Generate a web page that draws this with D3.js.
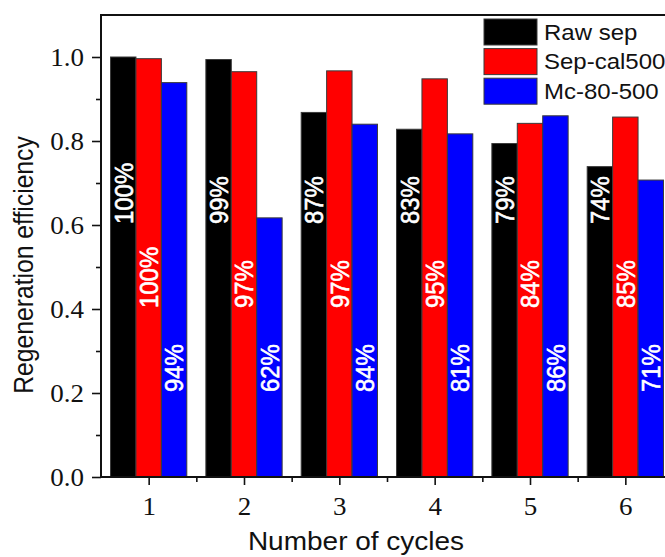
<!DOCTYPE html>
<html>
<head>
<meta charset="utf-8">
<script src="https://cdn.jsdelivr.net/npm/d3@7"></script>
<style>
    body { margin: 0; background: #fff; }
    svg { display: block; }
</style>
</head>
<body>
<div id="container"></div>
<script>
// values
const cycles = [1, 2, 3, 4, 5, 6];
const seriesNames = ["Raw sep", "Sep-cal500", "Mc-80-500"];
const rawSep = [1.000, 0.994, 0.868, 0.828, 0.794, 0.739];
const sepCal500 = [0.996, 0.965, 0.967, 0.948, 0.842, 0.857];
const mc80500 = [0.939, 0.617, 0.840, 0.817, 0.860, 0.707];
const rawSepLabels = ["100%", "99%", "87%", "83%", "79%", "74%"];
const sepCal500Labels = ["100%", "97%", "97%", "95%", "84%", "85%"];
const mc80500Labels = ["94%", "62%", "84%", "81%", "86%", "71%"];
const yTicks = [0, 0.2, 0.4, 0.6, 0.8, 1.0];

const W = 665, H = 557;
const sans = "'Liberation Sans', Arial, sans-serif",
    serif = "'Liberation Serif', 'Times New Roman', serif";
const squash = 0.92; // the source picture looks slightly squeezed vertically

const series = [
    {name: seriesNames[0], values: rawSep, labels: rawSepLabels, color: "#000000", labelAt: 0.6},
    {name: seriesNames[1], values: sepCal500, labels: sepCal500Labels, color: "#ff0000", labelAt: 0.4},
    {name: seriesNames[2], values: mc80500, labels: mc80500Labels, color: "#0000ff", labelAt: 0.2}
];

const svg = d3.select("#container").append("svg")
    .attr("width", W)
    .attr("height", H);

const x = d3.scaleLinear().domain([0.5, 6.5]).range([101, 673]);
const y = d3.scaleLinear().domain([0, 1.1]).range([477, 15]);
const barW = 0.8 / 3;

// bars
series.forEach((s, i) => {
    svg.append("g")
        .selectAll("rect")
        .data(cycles)
        .join("rect")
        .attr("x", (c) => x(c - 0.4 + i * barW))
        .attr("width", x(barW) - x(0))
        .attr("y", (c, j) => y(s.values[j]))
        .attr("height", (c, j) => y(0) - y(s.values[j]))
        .attr("fill", s.color)
        .attr("stroke", "#3a3a3a")
        .attr("stroke-width", 1);
});

// percentage labels inside bars, written bottom to top
series.forEach((s, i) => {
    svg.append("g")
        .selectAll("text")
        .data(cycles)
        .join("text")
        .attr("transform", (c) => `translate(${x(c - 0.4 + (i + 0.5) * barW)},${y(s.labelAt) - 1}) scale(1,${squash}) rotate(-90)`)
        .attr("dominant-baseline", "central")
        .attr("font-family", sans)
        .attr("font-size", 26)
        .attr("fill", "#fff")
        .attr("stroke", "#fff")
        .attr("stroke-width", 0.6)
        .text((c, j) => s.labels[j]);
});

// axes
const yAxis = svg.append("g")
    .attr("transform", `translate(${x(0.5)},0)`)
    .call(d3.axisLeft(y).tickValues(yTicks).tickSize(9).tickPadding(8).tickFormat(d3.format(".1f")));
svg.append("g")
    .attr("transform", `translate(${x(0.5)},0)`)
    .call(d3.axisLeft(y).tickValues([0.1, 0.3, 0.5, 0.7, 0.9]).tickSize(5).tickFormat(""));

const xAxis = svg.append("g")
    .attr("transform", `translate(0,${y(0)})`)
    .call(d3.axisBottom(x).tickValues(cycles).tickSize(8).tickFormat(d3.format("d")));
svg.append("g")
    .attr("transform", `translate(0,${y(0)})`)
    .call(d3.axisBottom(x).tickValues([1.5, 2.5, 3.5, 4.5, 5.5]).tickSize(5).tickFormat(""));

svg.selectAll(".domain").remove();
svg.selectAll(".tick line").attr("stroke", "#111").attr("stroke-width", 1.6);

yAxis.selectAll("text")
    .attr("x", null).attr("dy", null)
    .attr("transform", `translate(-17,0) scale(1,${squash})`)
    .attr("dy", "0.34em")
    .attr("font-family", serif)
    .attr("font-size", 27)
    .attr("fill", "#111");

xAxis.selectAll("text")
    .attr("y", null).attr("dy", null)
    .attr("transform", `translate(0,38) scale(1,${squash})`)
    .attr("font-family", serif)
    .attr("font-size", 27)
    .attr("fill", "#111");

// frame: left, bottom and top lines (right side runs past the window)
svg.append("path")
    .attr("d", `M${x(6.5)},${y(1.1)}H${x(0.5)}V${y(0)}H${x(6.5)}`)
    .attr("fill", "none")
    .attr("stroke", "#111")
    .attr("stroke-width", 2);

// axis titles
svg.append("text")
    .attr("transform", `translate(33,265) scale(1,0.915) rotate(-90)`)
    .attr("text-anchor", "middle")
    .attr("font-family", sans)
    .attr("font-size", 27)
    .attr("fill", "#111")
    .text("Regeneration efficiency");

svg.append("text")
    .attr("transform", `translate(356,550) scale(1,${squash})`)
    .attr("text-anchor", "middle")
    .attr("font-family", sans)
    .attr("font-size", 28)
    .attr("fill", "#111")
    .text("Number of cycles");

// legend
const legend = svg.append("g")
    .selectAll("g")
    .data(series)
    .join("g")
    .attr("transform", (d, i) => `translate(484,${19 + i * 29.6})`);

legend.append("rect")
    .attr("width", 53)
    .attr("height", 26)
    .attr("fill", (d) => d.color)
    .attr("stroke", "#3a3a3a")
    .attr("stroke-width", 1);

legend.append("text")
    .attr("transform", `translate(60,20.5) scale(1,0.9)`)
    .attr("font-family", sans)
    .attr("font-size", 24)
    .attr("fill", "#111")
    .text((d) => d.name);
</script>
</body>
</html>
